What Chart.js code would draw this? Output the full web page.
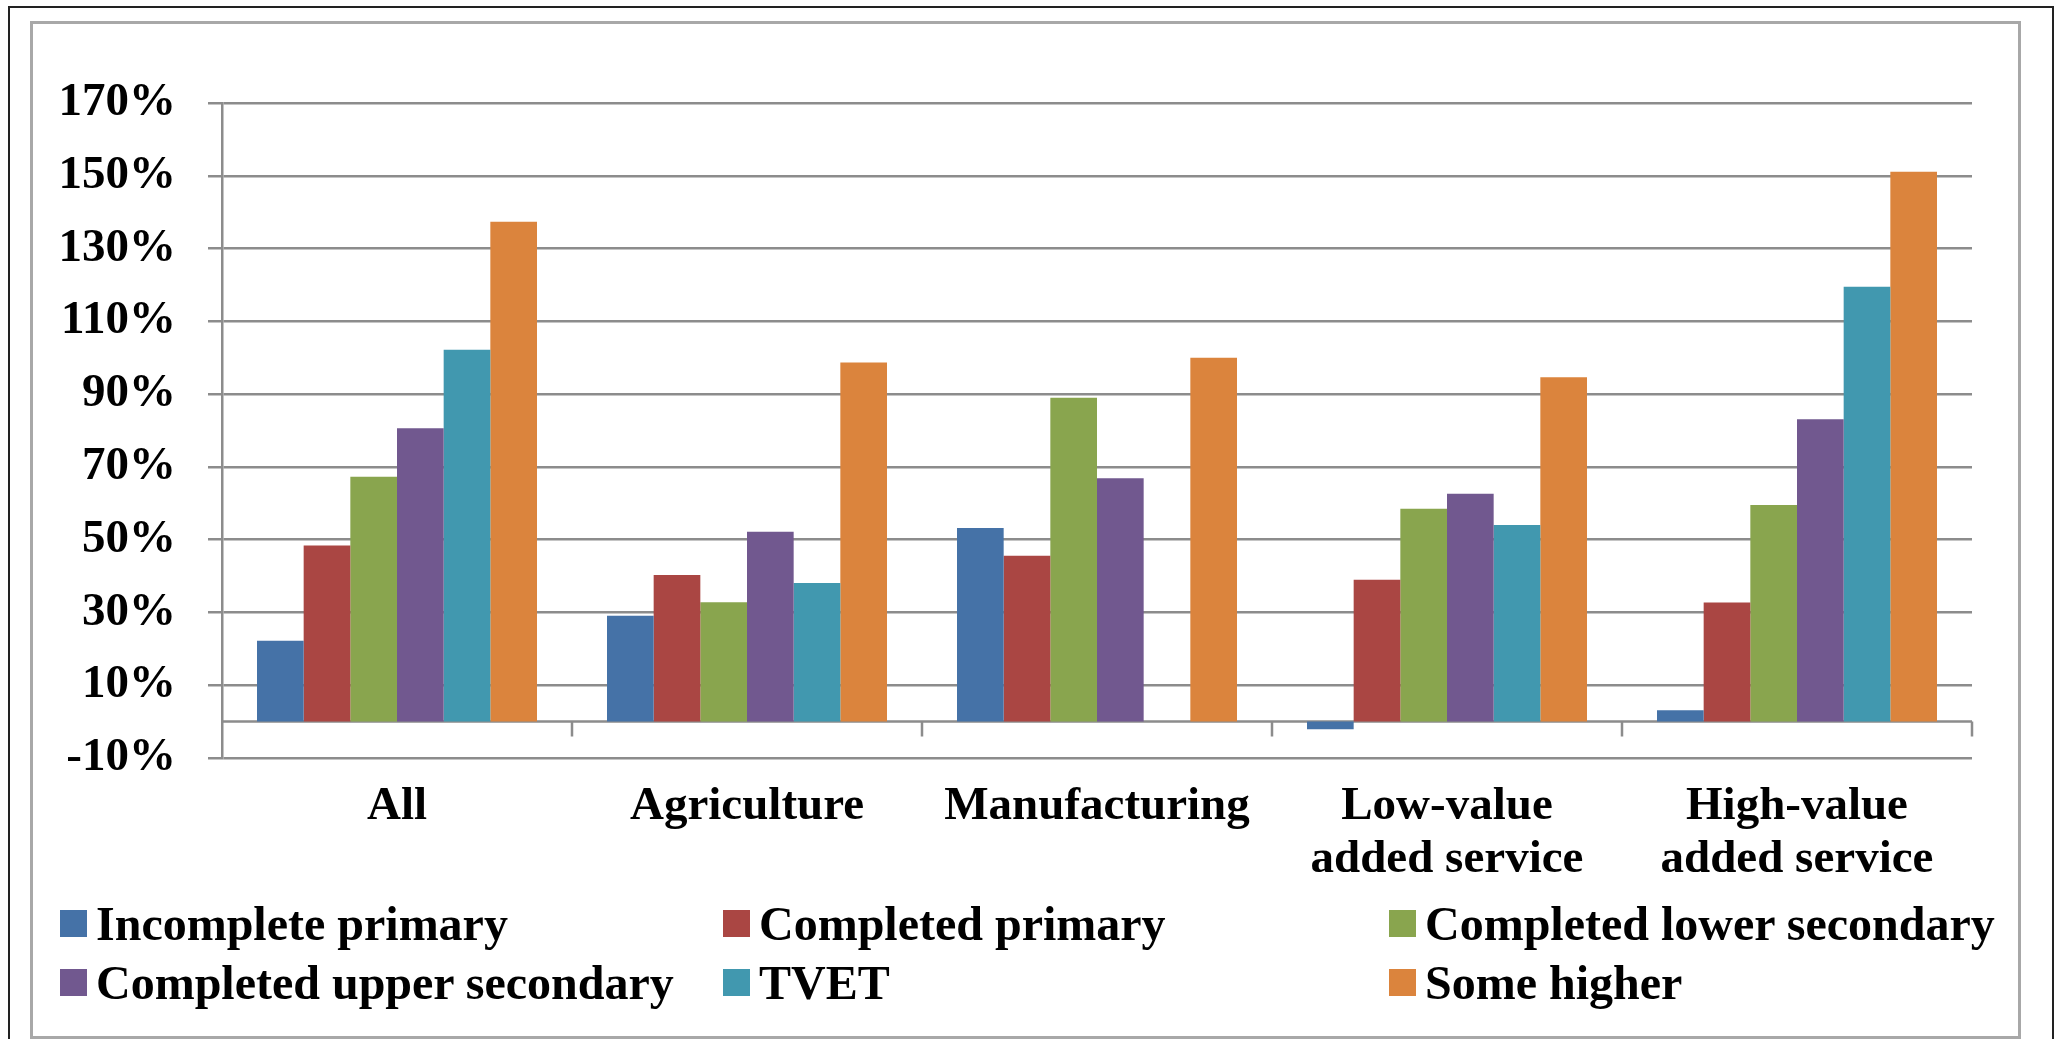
<!DOCTYPE html>
<html>
<head>
<meta charset="utf-8">
<script src="https://cdn.jsdelivr.net/npm/chart.js@4"></script>
<style>
  html, body { margin: 0; padding: 0; background: #fff; }
  #wrap { position: relative; width: 2059px; height: 1039px; overflow: hidden; }
  #outer { position: absolute; left: 8px; top: 6px; width: 2042px; height: 1100px; border: 2px solid #222; }
  #inner { position: absolute; left: 30px; top: 21px; width: 1985px; height: 1012px; border: 3px solid #a8a8a8; }
  canvas { position: absolute; left: 0; top: 0; }
  #legend { position: absolute; left: 60px; top: 898px; display: grid;
    grid-template-columns: 663px 666px 600px; row-gap: 8px;
    font-family: "Liberation Serif", serif; font-weight: bold; font-size: 48px; line-height: 51px; }
  .item { display: flex; align-items: center; white-space: nowrap; }
  .sw { width: 27px; height: 27px; margin-right: 9px; flex: none; }
</style>
</head>
<body>
<div id="wrap">
  <div id="outer"></div>
  <div id="inner"></div>
  <canvas id="c" width="2059" height="1039"></canvas>
  <div id="legend"></div>
</div>
<script>
// categories
var sectors = ['All', 'Agriculture', 'Manufacturing', ['Low-value', 'added service'], ['High-value', 'added service']];

// series (percent)
var incompletePrimary = [22.2, 29.1, 53.2, -2.1, 3.1];
var completedPrimary = [48.4, 40.3, 45.6, 39.0, 32.7];
var completedLowerSec = [67.3, 32.8, 89.0, 58.5, 59.5];
var completedUpperSec = [80.6, 52.2, 66.9, 62.6, 83.1];
var tvet = [102.2, 38.1, null, 54.0, 119.5];
var someHigher = [137.4, 98.7, 100.0, 94.6, 151.1];

var seriesNames = ['Incomplete primary', 'Completed primary', 'Completed lower secondary',
  'Completed upper secondary', 'TVET', 'Some higher'];
var colors = ['#4572A7', '#AA4643', '#89A54E', '#71588F', '#4198AF', '#DB843D'];

// y ticks
var yMin = -10, yMax = 170, yStep = 20;

var allSeries = [incompletePrimary, completedPrimary, completedLowerSec, completedUpperSec, tvet, someHigher];
var datasets = [];
for (let i = 0; i < allSeries.length; i++) {
  datasets.push({
    label: seriesNames[i],
    data: allSeries[i],
    backgroundColor: colors[i],
    borderWidth: 0,
    categoryPercentage: 0.8,
    barPercentage: 1.0
  });
}

var gridColor = '#8c8c8c';

// zero line with category tick marks
const zeroLine = {
  id: 'zeroLine',
  beforeDatasetsDraw(chart) {
    const ctx = chart.ctx;
    const y = chart.scales.y;
    const y0 = y.getPixelForValue(0);
    const left = chart.chartArea.left, right = chart.chartArea.right;
    ctx.save();
    ctx.strokeStyle = gridColor;
    ctx.lineWidth = 2.5;
    ctx.beginPath();
    ctx.moveTo(left, y0);
    ctx.lineTo(right, y0);
    const step = (right - left) / sectors.length;
    for (let i = 1; i <= sectors.length; i++) {
      const px = left + step * i;
      ctx.moveTo(px, y0);
      ctx.lineTo(px, y0 + 15);
    }
    ctx.stroke();
    ctx.restore();
  }
};

new Chart(document.getElementById('c'), {
  type: 'bar',
  data: { labels: sectors, datasets: datasets },
  plugins: [zeroLine],
  options: {
    responsive: false,
    animation: false,
    layout: { padding: { left: 0, right: 87, top: 103, bottom: 131 } },
    plugins: { legend: { display: false }, tooltip: { enabled: false } },
    scales: {
      x: {
        grid: { display: false, drawTicks: false },
        border: { display: false },
        ticks: {
          color: '#000',
          padding: 22,
          maxRotation: 0,
          font: { family: 'Liberation Serif', weight: 'bold', size: 47, lineHeight: 1.13 }
        },
        afterFit(scale) { scale.height = 150; }
      },
      y: {
        min: yMin,
        max: yMax,
        grid: { color: gridColor, lineWidth: 2.5, tickLength: 14 },
        border: { display: true, color: gridColor, width: 2.5 },
        ticks: {
          stepSize: yStep,
          color: '#000',
          padding: 32,
          font: { family: 'Liberation Serif', weight: 'bold', size: 47 },
          callback: function (v) { return v + '%'; }
        },
        afterFit(scale) { scale.width = 222; }
      }
    }
  }
});

// legend in three columns
var legend = document.getElementById('legend');
for (let i = 0; i < seriesNames.length; i++) {
  var item = document.createElement('div');
  item.className = 'item';
  item.innerHTML = '<span class="sw" style="background:' + colors[i] + '"></span>' + seriesNames[i];
  legend.appendChild(item);
}
</script>
</body>
</html>
